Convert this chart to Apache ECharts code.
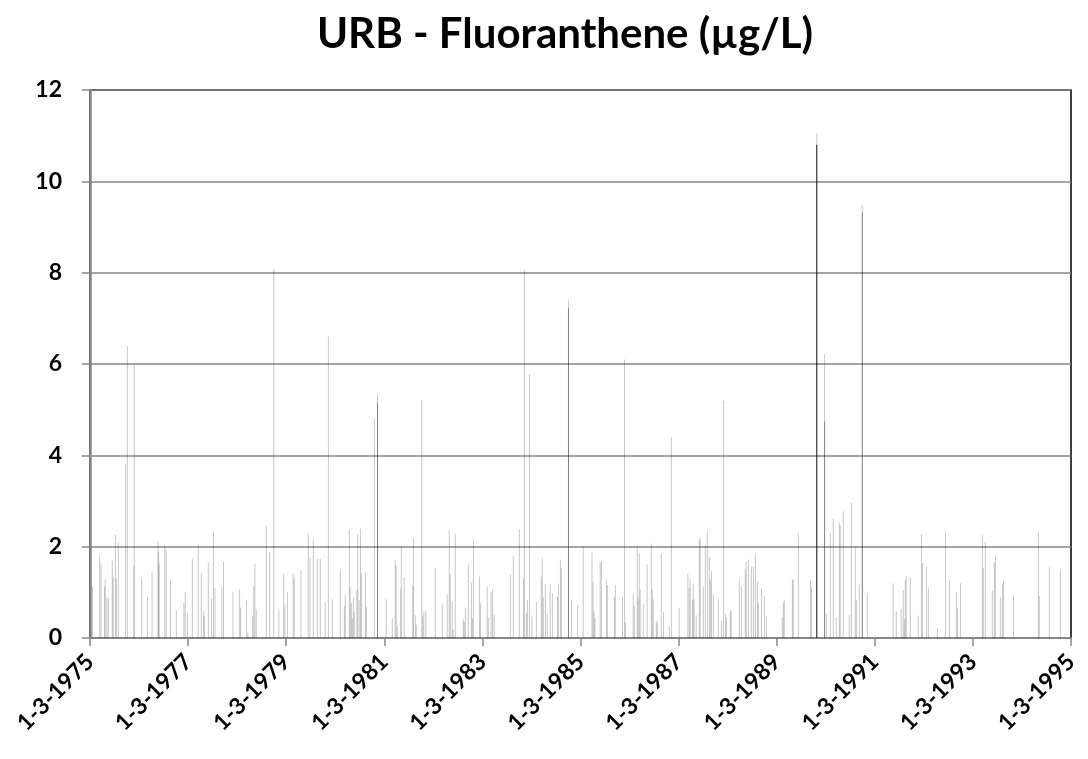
<!DOCTYPE html>
<html>
<head>
<meta charset="utf-8">
<title>URB - Fluoranthene</title>
<script src="https://cdn.jsdelivr.net/npm/echarts@6/dist/echarts.min.js"></script>
<style>
  html, body { margin: 0; padding: 0; background: #fff; }
  #chart { width: 1088px; height: 759px; }
</style>
</head>
<body>
<div id="chart"></div>
<script>
  // sampling dates and measured values (ug/L)
  var sampleDates = [
    '1975-03-20','1975-05-12','1975-05-21','1975-06-18','1975-06-22','1975-07-05','1975-07-15','1975-08-14','1975-08-21','1975-09-06',
    '1975-09-13','1975-09-28','1975-11-20','1975-12-04','1976-01-21','1976-01-25','1976-03-20','1976-05-01','1976-06-05','1976-07-19',
    '1976-07-24','1976-07-28','1976-09-08','1976-09-18','1976-10-20','1976-12-03','1977-01-28','1977-02-07','1977-02-24','1977-04-01',
    '1977-05-15','1977-06-07','1977-06-25','1977-06-29','1977-07-29','1977-08-21','1977-09-05','1977-09-16','1977-11-07','1977-11-19',
    '1978-01-28','1978-03-19','1978-03-26','1978-05-10','1978-05-20','1978-06-24','1978-07-02','1978-07-11','1978-07-21','1978-10-04',
    '1978-10-29','1978-11-28','1979-01-05','1979-02-10','1979-02-19','1979-03-10','1979-04-22','1979-04-30','1979-06-19','1979-08-12',
    '1979-08-25','1979-09-19','1979-10-18','1979-11-10','1979-12-17','1980-01-09','1980-02-08','1980-04-07','1980-05-07','1980-05-14',
    '1980-06-13','1980-06-20','1980-06-28','1980-07-05','1980-07-13','1980-07-20','1980-08-08','1980-08-15','1980-08-25','1980-09-04',
    '1980-09-11','1980-10-11','1980-10-18','1980-12-17','1981-01-09','1981-03-15','1981-04-29','1981-05-21','1981-05-28','1981-06-05',
    '1981-07-01','1981-07-05','1981-07-27','1981-09-29','1981-10-03','1981-10-18','1981-10-25','1981-12-05','1981-12-12','1981-12-20',
    '1982-01-04','1982-03-15','1982-05-06','1982-06-12','1982-06-27','1982-07-05','1982-07-19','1982-07-26','1982-08-11','1982-10-10',
    '1982-10-17','1982-10-25','1982-11-16','1982-12-09','1982-12-16','1982-12-24','1983-02-07','1983-02-15','1983-04-06','1983-04-14',
    '1983-05-05','1983-05-16','1983-05-28','1983-09-25','1983-10-17','1983-12-01','1984-01-01','1984-01-08','1984-01-22','1984-01-30',
    '1984-02-14','1984-03-04','1984-04-06','1984-05-12','1984-05-20','1984-05-27','1984-06-12','1984-06-26','1984-07-18','1984-08-03',
    '1984-09-10','1984-09-17','1984-10-02','1984-10-09','1984-12-01','1984-12-23','1985-02-07','1985-03-21','1985-05-25','1985-06-02',
    '1985-06-09','1985-06-16','1985-07-25','1985-08-03','1985-09-09','1985-09-17','1985-11-08','1985-11-15','1986-01-07','1986-01-22',
    '1986-01-29','1986-03-28','1986-04-05','1986-04-27','1986-05-04','1986-05-12','1986-05-19','1986-06-11','1986-07-10','1986-08-10',
    '1986-08-17','1986-08-24','1986-09-16','1986-09-24','1986-10-23','1986-11-08','1986-12-22','1987-01-06','1987-03-05','1987-05-09',
    '1987-05-19','1987-05-26','1987-06-11','1987-06-18','1987-06-25','1987-07-10','1987-08-02','1987-08-09','1987-09-01','1987-09-16',
    '1987-10-01','1987-10-16','1987-10-23','1987-11-01','1987-11-15','1987-12-22','1988-01-14','1988-01-29','1988-02-13','1988-02-20',
    '1988-03-20','1988-03-27','1988-05-26','1988-06-10','1988-07-10','1988-07-17','1988-08-02','1988-08-24','1988-09-08','1988-09-23',
    '1988-10-08','1988-10-15','1988-11-07','1988-11-29','1988-12-14','1989-04-11','1989-04-19','1989-04-26','1989-06-25','1989-07-02',
    '1989-08-09','1989-11-07','1989-11-14','1989-12-24','1990-02-20','1990-03-05','1990-04-04','1990-04-26','1990-05-18','1990-06-10',
    '1990-06-17','1990-07-09','1990-08-23','1990-09-08','1990-10-07','1990-10-15','1990-11-06','1990-11-28','1991-01-05','1991-07-16',
    '1991-08-08','1991-09-14','1991-09-29','1991-10-07','1991-10-14','1991-10-21','1991-11-20','1992-01-19','1992-02-11','1992-02-19',
    '1992-03-19','1992-04-03','1992-06-09','1992-08-08','1992-09-07','1992-10-29','1992-11-06','1992-11-28','1993-05-10','1993-05-17',
    '1993-06-01','1993-07-23','1993-08-07','1993-08-15','1993-09-21','1993-10-06','1993-10-14','1993-12-28','1994-07-01','1994-07-08',
    '1994-09-21','1994-12-12'
  ];
  var sampleValues = [
    1.12,1.81,1.63,1.12,1.28,0.88,0.88,1.69,1.34,2.26,
    1.31,2.09,3.81,6.40,1.56,5.99,1.31,0.90,1.45,2.11,
    1.89,1.63,2.04,1.93,1.27,0.61,0.77,1.00,0.53,1.73,
    2.05,1.43,0.59,0.48,1.66,0.86,2.32,1.09,1.11,1.68,
    1.00,1.07,0.67,0.83,0.12,0.47,1.14,1.63,0.63,2.44,
    1.89,8.08,0.61,1.40,0.74,1.00,1.42,1.31,1.49,2.29,
    1.77,2.16,1.73,1.73,0.78,6.60,0.85,1.50,0.70,0.94,
    2.38,1.11,0.76,0.43,0.90,0.58,1.05,2.26,0.83,2.40,
    1.42,1.44,0.69,4.80,5.34,0.85,0.43,1.72,1.59,0.25,
    1.09,1.99,1.33,1.15,2.19,0.50,0.28,5.21,0.47,0.58,
    0.59,1.53,0.74,0.96,2.36,1.40,0.80,0.19,2.29,0.41,
    0.34,0.67,1.61,1.21,0.43,2.16,1.34,0.76,1.12,0.45,
    1.01,1.07,0.50,1.39,1.80,2.38,1.31,8.06,0.55,0.83,
    5.78,0.47,0.79,1.34,1.74,0.89,1.18,0.53,1.18,0.98,
    0.90,1.18,1.71,1.53,7.39,0.83,0.72,2.00,1.87,1.23,
    0.58,0.45,1.66,1.69,1.28,1.16,0.90,1.16,0.90,6.10,
    0.34,0.98,0.70,2.00,0.87,1.85,1.05,0.74,1.61,2.07,
    1.07,0.85,0.37,0.34,1.84,0.57,0.25,4.39,0.65,1.40,
    1.09,1.29,0.83,1.18,0.85,0.50,2.15,2.19,1.12,2.04,
    2.35,1.77,1.28,1.47,0.96,0.85,0.38,5.19,0.53,0.45,
    0.60,0.58,1.28,1.12,1.49,1.67,1.72,1.56,1.56,1.85,
    1.23,0.77,1.10,0.92,0.48,0.45,0.77,0.82,1.28,1.28,
    2.29,1.27,1.12,11.06,6.22,0.54,2.31,2.61,0.45,2.53,
    2.47,2.78,0.50,2.96,2.00,0.83,1.16,9.48,0.98,1.20,
    0.58,0.63,1.05,0.41,1.27,1.36,1.33,0.49,2.28,1.64,
    1.56,1.09,0.23,2.34,1.26,1.00,0.65,1.20,2.25,1.54,
    2.10,1.03,1.64,1.81,0.90,1.20,1.27,0.93,2.33,0.92,
    1.55,1.49
  ];
  // darker overlapping samples
  var midDates = ['1981-01-09', '1984-12-01', '1990-02-20', '1990-11-28'];
  var midValues = [5.15, 7.23, 4.74, 9.33];
  var peakDates = ['1989-12-24'];
  var peakValues = [10.8];

  var yearTicks = [1975, 1977, 1979, 1981, 1983, 1985, 1987, 1989, 1991, 1993, 1995];

  var start = Date.UTC(1975, 2, 1);
  var yearMs = 365.25 * 24 * 3600 * 1000;

  function toPoints(dates, values) {
    return dates.map(function (d, i) {
      return [(Date.parse(d) - start) / yearMs, values[i]];
    });
  }

  var chart = echarts.init(document.getElementById('chart'));

  var option = {
    backgroundColor: '#fff',
    animation: false,
    title: {
      text: 'URB - Fluoranthene (µg/L)',
      left: 560,
      textAlign: 'center',
      top: 8,
      textStyle: {
        fontFamily: 'Lato',
        fontWeight: 'bold',
        fontSize: 42,
        color: '#000'
      }
    },
    grid: {
      left: 90,
      right: 17,
      top: 90,
      bottom: 121,
      show: true,
      borderColor: '#000',
      borderWidth: 1.5,
      containLabel: false
    },
    xAxis: {
      type: 'value',
      min: 0,
      max: 20,
      interval: 2,
      axisLine: { lineStyle: { color: '#868686', width: 2 } },
      axisTick: { show: true, length: 8, lineStyle: { color: '#868686', width: 1.5 } },
      splitLine: { show: false },
      axisLabel: {
        rotate: 45,
        margin: 20,
        color: '#000',
        fontFamily: 'Lato',
        fontWeight: 'bold',
        fontSize: 23,
        formatter: function (v) {
          var i = Math.round(v / 2);
          return '1-3-' + yearTicks[i];
        }
      }
    },
    yAxis: {
      type: 'value',
      min: 0,
      max: 12,
      interval: 2,
      axisLine: { show: true, lineStyle: { color: '#868686', width: 2.5 } },
      axisTick: { show: true, length: 8, lineStyle: { color: '#868686', width: 1.5 } },
      splitLine: { show: true, lineStyle: { color: '#868686', width: 1.5 } },
      axisLabel: {
        margin: 28,
        color: '#000',
        fontFamily: 'Lato',
        fontWeight: 'bold',
        fontSize: 23
      }
    },
    series: [
      {
        name: 'samples',
        type: 'bar',
        barWidth: 1,
        barGap: '-100%',
        itemStyle: { color: 'rgba(0,0,0,0.22)' },
        data: toPoints(sampleDates, sampleValues)
      },
      {
        name: 'overlap',
        type: 'bar',
        barWidth: 1,
        barGap: '-100%',
        itemStyle: { color: 'rgba(0,0,0,0.35)' },
        data: toPoints(midDates, midValues)
      },
      {
        name: 'peak',
        type: 'bar',
        barWidth: 1,
        barGap: '-100%',
        itemStyle: { color: 'rgba(0,0,0,0.85)' },
        data: toPoints(peakDates, peakValues)
      }
    ]
  };

  chart.setOption(option);
</script>
</body>
</html>
